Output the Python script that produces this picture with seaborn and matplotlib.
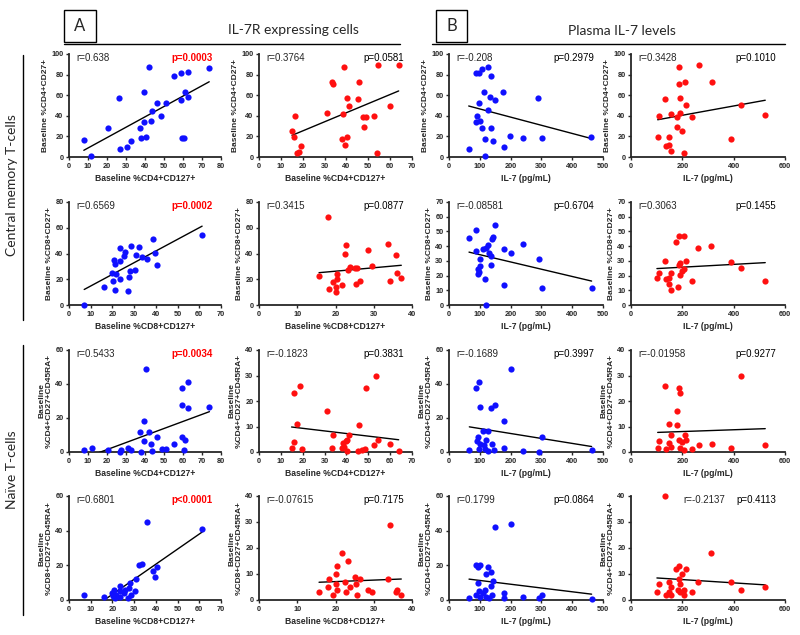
import numpy as np
import pandas as pd
import matplotlib
matplotlib.use("Agg")
import matplotlib.pyplot as plt
import seaborn as sns
from matplotlib.lines import Line2D
from matplotlib.patches import Rectangle

sns.set_style("ticks")
plt.rcParams['font.family'] = ['Liberation Sans', 'DejaVu Sans']

BLUE = "#1010ff"
RED = "#ff1010"

# ---------------- data ----------------
# Row 1: Baseline %CD4+CD27+ (central memory)
cm4_il7r_blue_x = [7.8, 11.6, 20.6, 26.4, 27.1, 30.7, 32.6, 37.4, 38.0, 39.5, 39.3, 40.4, 42.1, 43.5,
                   43.2, 46.3, 48.6, 50.9, 55.2, 59.2, 59.2, 59.6, 60.6, 61.0, 62.4, 62.4, 73.8]
cm4_il7r_blue_y = [16.5, 1.3, 28, 57, 7.8, 9.7, 15.9, 28, 18.4, 34, 63, 19.7, 87, 45,
                   35, 52, 40, 52, 79, 55, 82, 18, 18.8, 63, 58, 82.5, 86]
cm4_il7r_red_x = [15.1, 15.9, 16.3, 17.4, 18.3, 19.4, 31.3, 33.4, 34.0, 38.3, 39.0, 37.8, 39.5,
                  40.1, 40.4, 41.0, 45.4, 45.7, 47.6, 48.8, 48.2, 52.5, 54.0, 54.6, 59.9, 63.9]
cm4_il7r_red_y = [25, 19, 40, 3.9, 5.2, 10.4, 43, 73, 70.5, 41.5, 87, 17.5, 11.3,
                  19.7, 57, 50, 56, 72.5, 39, 39, 29, 39.5, 4.2, 89, 50, 89]
cm4_il7_blue_x = [64, 87, 97, 107, 96, 91, 89, 100, 107, 117, 117, 115, 126, 137, 133, 126,
                  136, 148, 143, 176, 178, 198, 239, 301, 289, 462]
cm4_il7_blue_y = [7.8, 82, 82, 85, 52, 40, 34, 35, 28.5, 17, 1.3, 63, 87, 79, 58.5, 45.6,
                  28.5, 55, 16, 63.5, 9.7, 20, 18.4, 18.4, 57.6, 19]
cm4_il7_red_x = [104, 111, 132, 135, 148, 148, 156, 156, 179, 181, 187, 187, 190, 192, 197,
                 207, 210, 215, 238, 264, 314, 389, 430, 523]
cm4_il7_red_y = [19.7, 39.5, 56, 10.7, 11.3, 19, 5.5, 41.4, 39, 29, 87, 70.5, 42.7, 57, 25,
                 3.9, 72.5, 50.5, 39, 89, 73, 17.8, 50.5, 40.5]

# Row 2: Baseline %CD8+CD27+ (central memory)
cm8_il7r_blue_x = [7.0, 16.2, 21.0, 20.0, 20.3, 20.8, 21.4, 21.5, 23.3, 23.5, 23.5, 25.3, 25.6,
                   27.1, 27.8, 28.0, 28.4, 30.2, 30.8, 32.3, 33.5, 35.7, 38.7, 39.6, 40.6, 61.3]
cm8_il7r_blue_y = [0, 13.7, 11.4, 24.8, 18.3, 34.8, 31.5, 24.3, 20.4, 33.8, 44.6, 38.2, 41,
                   11.1, 21.7, 26.6, 46.2, 27.4, 38.5, 45.4, 37.4, 35.4, 51.4, 40.5, 31.2, 54.2]
cm8_il7r_red_x = [15.7, 18.0, 18.3, 19.4, 20.0, 20.2, 20.4, 20.4, 21.6, 22.6, 22.8, 23.3, 23.7,
                  25.1, 25.6, 25.4, 26.4, 28.5, 29.5, 33.7, 34.2, 35.7, 36.0, 37.2]
cm8_il7r_red_y = [22.2, 68, 12.1, 17.8, 13.7, 10.3, 20.4, 23.7, 15.7, 40, 46.7, 27.4, 29.7,
                  28.9, 28.4, 16, 18.6, 42.8, 30.2, 47, 18.3, 39, 25, 21.2]
cm8_il7_blue_x = [65, 89, 88, 93, 93, 98, 102, 102, 111, 120, 128, 130, 137, 139, 143, 150,
                  135, 117, 120, 178, 178, 200, 241, 292, 302, 463]
cm8_il7_blue_y = [45.6, 51.2, 37, 24.6, 21, 22.3, 31.4, 26.6, 38, 38.6, 41, 35.4, 33.6, 45,
                  46.3, 54.2, 27.5, 17.8, 0, 38.1, 13.8, 35.4, 41.3, 31.2, 11.3, 11.3]
cm8_il7_red_x = [101, 111, 133, 135, 148, 148, 156, 156, 176, 184, 187, 187, 190, 192, 200,
                 205, 207, 215, 238, 262, 311, 389, 430, 523]
cm8_il7_red_y = [18.5, 21.7, 30.2, 17.4, 18.3, 14, 10.2, 21.9, 42.9, 12, 47.2, 27.3, 20.5,
                 28.7, 22.8, 24.2, 46.7, 30.2, 16.3, 39, 40.2, 28.9, 25, 16.3]

# Row 3: Baseline %CD4+CD27+CD45RA+ (naive)
nv4_il7r_blue_x = [8.1, 11.9, 20.7, 26.7, 27.4, 30.9, 32.6, 37.9, 37.5, 39.3, 39.6, 40.5, 42.1,
                   43.2, 43.7, 46.5, 48.8, 50.9, 55.1, 59.3, 59.3, 59.5, 60.7, 61.1, 62.5, 62.5, 73.9]
nv4_il7r_blue_y = [1.2, 2.3, 1.2, 0, 1.2, 2.3, 1.2, 0, 11.7, 6.2, 18.5, 48.7, 11.7,
                   4.7, 0.4, 8.6, 2, 2, 4.7, 37.4, 27.7, 8.6, 1.2, 7, 41.3, 25.7, 26.5]
nv4_il7r_red_x = [14.9, 15.9, 16.2, 17.4, 18.6, 19.5, 31.3, 33.6, 34.0, 37.8, 38.4, 39.0, 39.6,
                  40.4, 40.3, 41.0, 45.4, 45.9, 47.3, 48.4, 48.8, 52.5, 53.7, 54.6, 59.8, 63.9]
nv4_il7r_red_y = [1.6, 23.1, 3.9, 10.9, 26, 1.2, 16.1, 1.6, 6.5, 1.6, 3.4, 1.8, 4.2,
                  0.5, 4.7, 6.8, 0.3, 10.4, 0.8, 1.3, 25.1, 2.6, 29.7, 4.8, 3.2, 0.5]
nv4_il7_blue_x = [66, 89, 91, 93, 96, 98, 102, 102, 109, 113, 120, 117, 126, 128, 135, 139,
                  145, 150, 178, 180, 200, 241, 292, 303, 463]
nv4_il7_blue_y = [1.2, 37.4, 6.2, 9, 2, 41.3, 26.7, 4.7, 12.1, 3.9, 7, 2, 12.1, 0.4, 25.7,
                  4.7, 1.2, 27.7, 18.5, 2.3, 48.7, 0.4, 0, 8.6, 1.2]
nv4_il7_red_x = [104, 111, 132, 135, 148, 148, 156, 156, 179, 181, 187, 187, 190, 192, 197,
                 207, 210, 215, 238, 264, 314, 389, 430, 523]
nv4_il7_red_y = [1.6, 4.2, 26, 1.2, 10.9, 3.4, 1.8, 6.8, 16.1, 10.4, 25.1, 4.7, 23.1, 1.6,
                 3.9, 0.8, 6.5, 4.8, 1.3, 2.6, 3.2, 1.6, 29.7, 2.6]

# Row 4: Baseline %CD8+CD27+CD45RA+ (naive)
nv8_il7r_blue_x = [7.0, 16.2, 21.0, 20.0, 20.3, 20.8, 21.4, 21.5, 23.3, 23.5, 23.5, 25.3, 25.6,
                   27.1, 27.8, 28.0, 28.4, 30.2, 30.8, 32.3, 33.5, 35.7, 38.7, 39.6, 40.6, 61.3]
nv8_il7r_blue_y = [3, 2, 1, 4, 2.5, 6, 1.5, 3, 5, 8, 2, 4, 6,
                   1, 7, 10, 3, 5, 12, 20, 21, 45, 17, 13, 19, 41]
nv8_il7r_red_x = [15.7, 18.0, 18.3, 19.4, 20.0, 20.2, 20.4, 20.4, 21.6, 22.6, 22.8, 23.3, 23.7,
                  25.1, 25.6, 25.4, 26.4, 28.5, 29.5, 33.7, 34.2, 35.7, 36.0, 37.2]
nv8_il7r_red_y = [3, 5, 8, 2, 6, 10, 13, 4, 18, 7, 3, 15, 5,
                  9, 2, 6, 8, 4, 3, 8, 29, 3, 4, 2]
nv8_il7_blue_x = [65, 89, 88, 93, 93, 98, 102, 102, 111, 120, 128, 130, 137, 139, 143, 150,
                  135, 117, 120, 178, 178, 200, 241, 292, 302, 463]
nv8_il7_blue_y = [1, 20, 3, 10, 19, 5, 2, 20, 4, 15, 19, 1, 8, 3, 11, 42,
                  16, 6, 2, 4, 1, 44, 2, 1, 3, 0.5]
nv8_il7_red_x = [101, 111, 133, 135, 148, 148, 156, 156, 176, 184, 187, 187, 190, 192, 200,
                 205, 207, 215, 238, 262, 311, 389, 430, 523]
nv8_il7_red_y = [3, 6, 40, 2, 7, 3, 2, 5, 12, 4, 8, 13, 3, 6, 10,
                 2, 4, 12, 3, 7, 18, 7, 4, 5]

r_texts = [["r=0.638", "r=0.3764", "r=-0.208", "r=0.3428"],
           ["r=0.6569", "r=0.3415", "r=-0.08581", "r=0.3063"],
           ["r=0.5433", "r=-0.1823", "r=-0.1689", "r=-0.01958"],
           ["r=0.6801", "r=-0.07615", "r=0.1799", "r=-0.2137"]]
p_texts = [["p=0.0003", "p=0.0581", "p=0.2979", "p=0.1010"],
           ["p=0.0002", "p=0.0877", "p=0.6704", "p=0.1455"],
           ["p=0.0034", "p=0.3831", "p=0.3997", "p=0.9277"],
           ["p<0.0001", "p=0.7175", "p=0.0864", "p=0.4113"]]
p_significant = [[True, False, False, False],
                 [True, False, False, False],
                 [True, False, False, False],
                 [True, False, False, False]]

ylabels = ["Baseline %CD4+CD27+", "Baseline %CD8+CD27+",
           "Baseline\n%CD4+CD27+CD45RA+", "Baseline\n%CD8+CD27+CD45RA+"]
ylabels_row4_il7 = "Baseline\n%CD4+CD27+CD45RA+"
xlabel_cd4 = "Baseline %CD4+CD127+"
xlabel_cd8 = "Baseline %CD8+CD127+"
xlabel_il7 = "IL-7 (pg/mL)"

data = [
    [(cm4_il7r_blue_x, cm4_il7r_blue_y), (cm4_il7r_red_x, cm4_il7r_red_y),
     (cm4_il7_blue_x, cm4_il7_blue_y), (cm4_il7_red_x, cm4_il7_red_y)],
    [(cm8_il7r_blue_x, cm8_il7r_blue_y), (cm8_il7r_red_x, cm8_il7r_red_y),
     (cm8_il7_blue_x, cm8_il7_blue_y), (cm8_il7_red_x, cm8_il7_red_y)],
    [(nv4_il7r_blue_x, nv4_il7r_blue_y), (nv4_il7r_red_x, nv4_il7r_red_y),
     (nv4_il7_blue_x, nv4_il7_blue_y), (nv4_il7_red_x, nv4_il7_red_y)],
    [(nv8_il7r_blue_x, nv8_il7r_blue_y), (nv8_il7r_red_x, nv8_il7r_red_y),
     (nv8_il7_blue_x, nv8_il7_blue_y), (nv8_il7_red_x, nv8_il7_red_y)],
]

# axis ranges (max, step)
xranges = [[(80, 10), (70, 10), (500, 100), (600, 200)],
           [(70, 10), (40, 10), (500, 100), (600, 200)],
           [(80, 10), (70, 10), (500, 100), (600, 200)],
           [(70, 10), (40, 10), (500, 100), (600, 200)]]
yranges = [[(100, 20), (100, 20), (100, 20), (100, 20)],
           [(80, 20), (80, 20), (70, 10), (70, 10)],
           [(60, 20), (40, 10), (60, 20), (40, 10)],
           [(60, 20), (40, 10), (60, 20), (40, 10)]]

# ---------------- layout (pixels) ----------------
W, H = 800, 635
col_px = [(69, 221), (259, 412), (449, 603), (631, 785)]
row_px = [(54, 157), (202, 305), (350, 452), (496, 600)]

fig = plt.figure(figsize=(W / 100, H / 100), dpi=100)
fig.patch.set_facecolor("white")

for r in range(4):
    for c in range(4):
        x0, x1 = col_px[c]
        y0, y1 = row_px[r]
        ax = fig.add_axes([x0 / W, 1 - y1 / H, (x1 - x0) / W, (y1 - y0) / H])
        xs, ys = data[r][c]
        df = pd.DataFrame({"x": xs, "y": ys})
        color = BLUE if c in (0, 2) else RED
        sns.regplot(data=df, x="x", y="y", ax=ax, ci=None, color=color,
                    scatter_kws=dict(s=20, color=color, linewidths=0, alpha=1,
                                     clip_on=False, zorder=4),
                    line_kws=dict(color="black", lw=1.0, zorder=3))
        xmax, xstep = xranges[r][c]
        ymax, ystep = yranges[r][c]
        ax.set_xlim(0, xmax)
        ax.set_ylim(0, ymax)
        ax.set_xticks(np.arange(0, xmax + 1, xstep))
        ax.set_yticks(np.arange(0, ymax + 1, ystep))
        sns.despine(ax=ax)
        for s in ("left", "bottom"):
            ax.spines[s].set_linewidth(1.3)
        ax.tick_params(axis="both", labelsize=5.3, width=1.0, length=2.5, pad=1.5)
        for lab in ax.get_xticklabels() + ax.get_yticklabels():
            lab.set_fontweight("bold")
        if c < 2:
            xl = xlabel_cd4 if r in (0, 2) else xlabel_cd8
        else:
            xl = xlabel_il7
        ax.set_xlabel(xl, fontsize=6.2, fontweight="bold", labelpad=3)
        yl = ylabels[r]
        if r == 3 and c >= 2:
            yl = ylabels_row4_il7
        ax.set_ylabel(yl, fontsize=6.0, fontweight="bold", labelpad=2,
                      linespacing=1.1)
        rx = 0.34 if (r == 3 and c == 3) else 0.05
        ax.text(rx, 0.96, r_texts[r][c], transform=ax.transAxes, fontsize=7.0,
                va="center", ha="left")
        sig = p_significant[r][c]
        ax.text(0.945, 0.96, p_texts[r][c], transform=ax.transAxes, fontsize=7.0,
                va="center", ha="right", color="red" if sig else "black",
                fontweight="bold" if sig else "normal")

# ---------------- header & side labels ----------------
def fline(xa, ya, xb, yb, lw=1.0):
    fig.add_artist(Line2D([xa / W, xb / W], [1 - ya / H, 1 - yb / H],
                          transform=fig.transFigure, color="black", lw=lw))

def fbox(xa, ya, xb, yb, letter):
    fig.add_artist(Rectangle((xa / W, 1 - yb / H), (xb - xa) / W, (yb - ya) / H,
                             transform=fig.transFigure, fill=False,
                             edgecolor="black", lw=1.0))
    fig.text((xa + xb) / 2 / W, 1 - (ya + yb) / 2 / H, letter, ha="center",
             va="center", fontsize=12, family=["Lato", "DejaVu Sans"])

fbox(64, 10, 96, 42, "A")
fbox(436, 10, 467, 42, "B")
fig.text(293 / W, 1 - 30 / H, "IL-7R expressing cells", ha="center", va="center",
         fontsize=10, family=["Lato", "DejaVu Sans"])
fig.text(622 / W, 1 - 31 / H, "Plasma IL-7 levels", ha="center", va="center",
         fontsize=10, family=["Lato", "DejaVu Sans"])
fline(64, 44, 400, 44)
fline(432, 44, 785, 44)

fig.text(12 / W, 1 - 185 / H, "Central memory T-cells", ha="center", va="center",
         rotation=90, fontsize=10, family=["Lato", "DejaVu Sans"])
fig.text(12 / W, 1 - 470 / H, "Naïve T-cells", ha="center", va="center",
         rotation=90, fontsize=10, family=["Lato", "DejaVu Sans"])
fline(23, 55, 23, 320)
fline(23, 345, 23, 615)

fig.savefig("out.png", dpi=100)
